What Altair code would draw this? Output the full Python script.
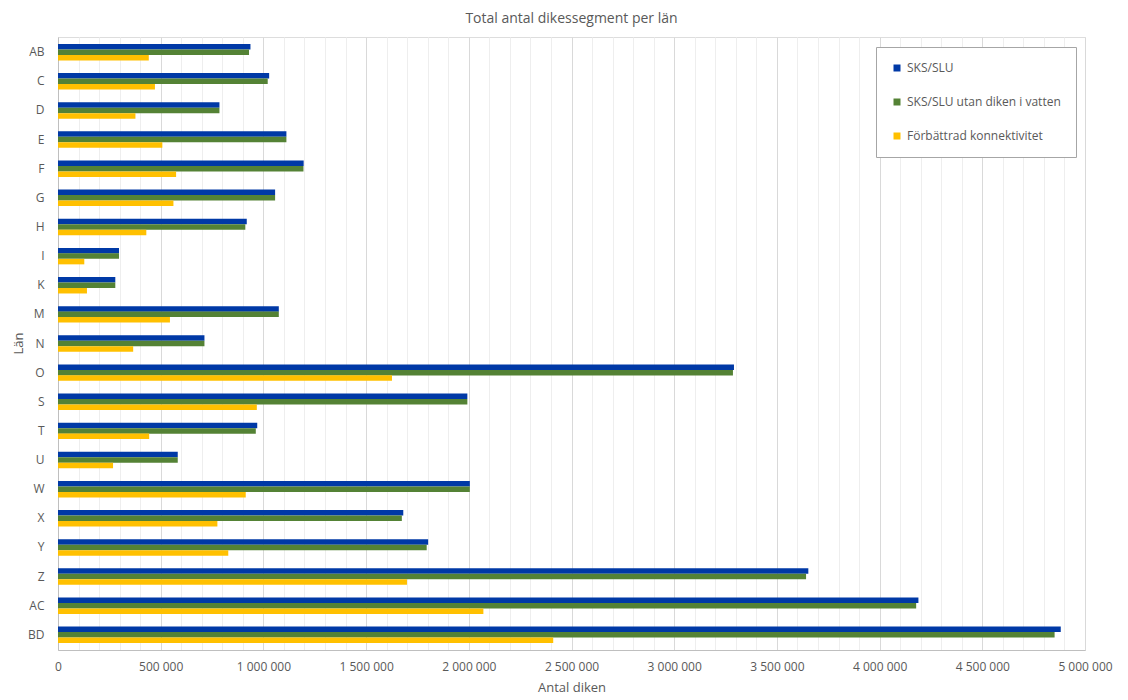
import altair as alt
import pandas as pd

lan = ["AB", "C", "D", "E", "F", "G", "H", "I", "K", "M", "N", "O", "S", "T", "U", "W", "X", "Y", "Z", "AC", "BD"]
series = ["SKS/SLU", "SKS/SLU utan diken i vatten", "Förbättrad konnektivitet"]
sks_slu = [937000, 1028000, 786000, 1112000, 1196000, 1057000, 919000, 297000, 279000, 1075000, 713000,
           3291000, 1993000, 970000, 583000, 2005000, 1681000, 1802000, 3653000, 4189000, 4882000]
sks_utan = [930000, 1021000, 786000, 1112000, 1195000, 1057000, 912000, 297000, 279000, 1075000, 713000,
            3286000, 1993000, 963000, 583000, 2005000, 1674000, 1795000, 3642000, 4178000, 4852000]
forbattrad = [442000, 472000, 377000, 508000, 575000, 562000, 430000, 128000, 141000, 545000, 366000,
              1626000, 968000, 444000, 268000, 914000, 776000, 829000, 1699000, 2071000, 2411000]
colors = ["#0039A6", "#548235", "#FFC000"]
grid_values = list(range(0, 5000001, 100000))

rows = []
for i, l in enumerate(lan):
    for s, vals in zip(series, [sks_slu, sks_utan, forbattrad]):
        rows.append({"Län": l, "Serie": s, "Antal": vals[i]})
df = pd.DataFrame(rows)

FONT = "Open Sans"
GREY = "#595959"

chart = alt.Chart(df).mark_bar(size=5.5).encode(
    y=alt.Y("Län:N", sort=lan,
            scale=alt.Scale(paddingInner=0.435, paddingOuter=0.24),
            axis=alt.Axis(title="Län", ticks=False, labelPadding=14, labelFontSize=12,
                          labelColor=GREY, labelFont=FONT, titleFont=FONT, titleFontSize=13,
                          titleColor=GREY, titleFontWeight="normal", domainColor="#bfbfbf",
                          titleX=-40, titleY=306, titleAngle=-90, titleBaseline="middle")),
    yOffset=alt.YOffset("Serie:N", sort=series),
    x=alt.X("Antal:Q", scale=alt.Scale(domain=[0, 5000000], nice=False),
            axis=alt.Axis(title="Antal diken", values=grid_values, ticks=False, labelFlush=False,
                          labelExpr="datum.value % 500000 === 0 ? replace(format(datum.value, ','), /,/g, ' ') : ''",
                          labelOverlap=False, labelPadding=11, labelFontSize=12, labelColor=GREY,
                          labelFont=FONT, titleFont=FONT, titleFontSize=13, titleColor=GREY,
                          titleFontWeight="normal", titlePadding=9, domainColor="#bfbfbf",
                          gridColor={"condition": {"test": "datum.value % 500000 === 0", "value": "#d9d9d9"},
                                     "value": "#eeeeee"})),
    color=alt.Color("Serie:N", sort=series,
                    scale=alt.Scale(domain=series, range=colors),
                    legend=alt.Legend(title=None, orient="none", legendX=818, legendY=10,
                                      symbolType="square", symbolSize=49, symbolStrokeWidth=0,
                                      labelFont=FONT, labelFontSize=12, labelColor=GREY,
                                      rowPadding=22, padding=15, labelOffset=4,
                                      fillColor="white", strokeColor="#a6a6a6")),
).properties(
    width=1027, height=613,
    title=alt.TitleParams("Total antal dikessegment per län", font=FONT, fontSize=14,
                          fontWeight="normal", color=GREY, offset=11),
    autosize=alt.AutoSizeParams(type="none"),
    padding={"left": 50, "top": 29, "right": 35, "bottom": 56},
).configure_view(stroke="#bfbfbf").configure(background="white")

chart.save("out.html", embed_options={"renderer": "svg", "actions": False})
